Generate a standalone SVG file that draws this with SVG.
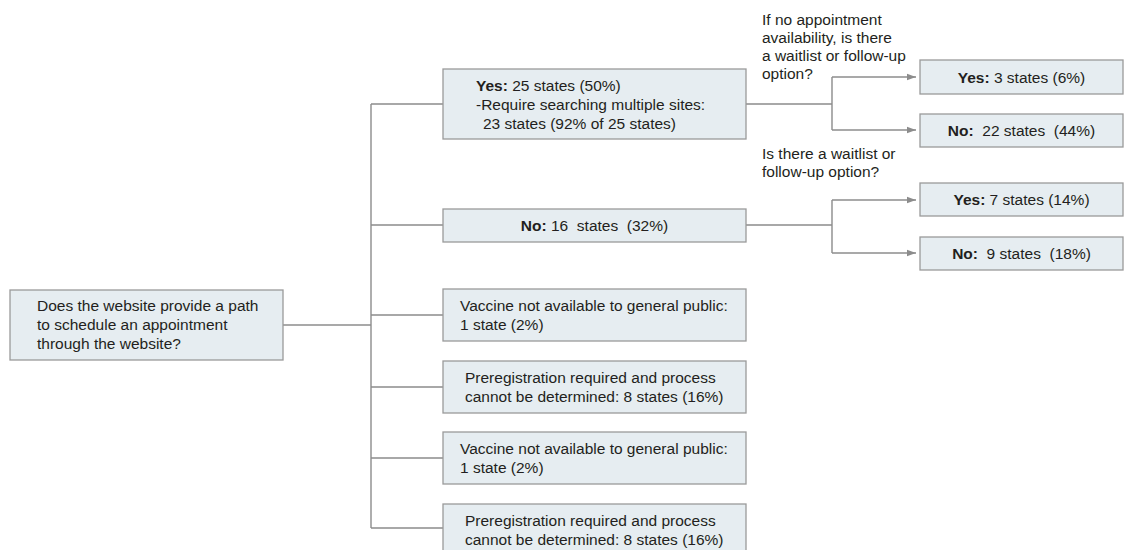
<svg xmlns="http://www.w3.org/2000/svg" width="1127" height="550" viewBox="0 0 1127 550">
<defs>
<style>
.box{fill:#e6edf1;stroke:#9a9a9a;stroke-width:1.3}
.ln{fill:none;stroke:#8c8c8c;stroke-width:1.4}
text{font-family:"Liberation Sans",Arial,sans-serif;font-size:15.5px;fill:#231f20}
.c{text-anchor:middle}
.b{font-weight:bold}
</style>
<marker id="ah" markerUnits="userSpaceOnUse" markerWidth="9" markerHeight="8" refX="9" refY="4" orient="auto">
<path d="M0,0.8 L9,4 L0,7.2 Z" fill="#8c8c8c"/>
</marker>
</defs>
<rect width="1127" height="550" fill="#ffffff"/>
<g id="connectors">
<path class="ln" d="M283,325 H371"/>
<path class="ln" d="M371,104 V528"/>
<path class="ln" d="M371,104 H443 M371,225 H443 M371,315 H443 M371,387 H443 M371,458 H443 M371,528 H443"/>
<path class="ln" d="M746,104 H832 M832,77 V130 M746,225 H832 M832,200 V253"/>
<path class="ln" d="M832,77 H916" marker-end="url(#ah)"/>
<path class="ln" d="M832,130 H916" marker-end="url(#ah)"/>
<path class="ln" d="M832,200 H916" marker-end="url(#ah)"/>
<path class="ln" d="M832,253 H916" marker-end="url(#ah)"/>
</g>
<g id="root">
<rect class="box" x="10" y="290" width="273" height="70"/>
<text x="37" y="311">Does the website provide a path</text>
<text x="37" y="330">to schedule an appointment</text>
<text x="37" y="349">through the website?</text>
</g>
<g id="yes">
<rect class="box" x="443" y="69" width="303" height="70"/>
<text x="476" y="91"><tspan class="b">Yes:</tspan> 25 states (50%)</text>
<text x="476" y="110">-Require searching multiple sites:</text>
<text x="483" y="129">23 states (92% of 25 states)</text>
</g>
<g id="no">
<rect class="box" x="443" y="209" width="303" height="33"/>
<text class="c" x="594.5" y="231" xml:space="preserve"><tspan class="b">No:</tspan> 16  states  (32%)</text>
</g>
<g id="vaccine1">
<rect class="box" x="443" y="289" width="303" height="52"/>
<text x="460" y="311">Vaccine not available to general public:</text>
<text x="460" y="330">1 state (2%)</text>
</g>
<g id="prereg1">
<rect class="box" x="443" y="361" width="303" height="52"/>
<text x="465" y="383">Preregistration required and process</text>
<text x="465" y="402">cannot be determined: 8 states (16%)</text>
</g>
<g id="vaccine2">
<rect class="box" x="443" y="432" width="303" height="52"/>
<text x="460" y="454">Vaccine not available to general public:</text>
<text x="460" y="473">1 state (2%)</text>
</g>
<g id="prereg2">
<rect class="box" x="443" y="504" width="303" height="52"/>
<text x="465" y="526">Preregistration required and process</text>
<text x="465" y="545">cannot be determined: 8 states (16%)</text>
</g>
<g id="q1">
<text x="762" y="25">If no appointment</text>
<text x="762" y="43">availability, is there</text>
<text x="762" y="61">a waitlist or follow-up</text>
<text x="762" y="79">option?</text>
</g>
<g id="q2">
<text x="762" y="159">Is there a waitlist or</text>
<text x="762" y="177">follow-up option?</text>
</g>
<g id="yes-yes">
<rect class="box" x="920" y="60" width="203" height="34"/>
<text class="c" x="1021.5" y="83"><tspan class="b">Yes:</tspan> 3 states (6%)</text>
</g>
<g id="yes-no">
<rect class="box" x="920" y="114" width="203" height="33"/>
<text class="c" x="1021.5" y="136" xml:space="preserve"><tspan class="b">No:</tspan>  22 states  (44%)</text>
</g>
<g id="no-yes">
<rect class="box" x="920" y="183" width="203" height="33"/>
<text class="c" x="1021.5" y="205"><tspan class="b">Yes:</tspan> 7 states (14%)</text>
</g>
<g id="no-no">
<rect class="box" x="920" y="237" width="203" height="33"/>
<text class="c" x="1021.5" y="259" xml:space="preserve"><tspan class="b">No:</tspan>  9 states  (18%)</text>
</g>
</svg>
